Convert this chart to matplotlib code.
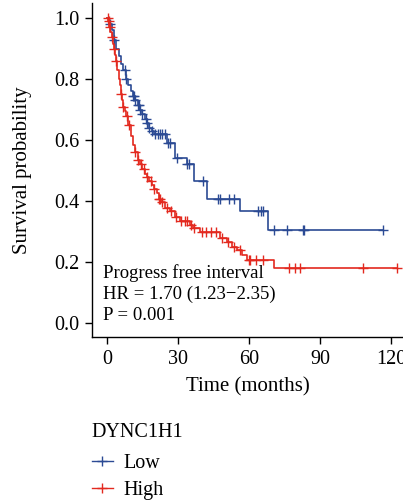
import numpy as np
import matplotlib
matplotlib.use('Agg')
import matplotlib.pyplot as plt
from matplotlib.lines import Line2D

plt.rcParams['font.family'] = ['Liberation Serif', 'DejaVu Serif']

BLUE = '#2b4a94'
RED = '#e3291f'

# Low expression group: step times (months) and survival after each step
low_t = [0, 1, 2, 3, 4, 5, 6, 7, 8, 9, 10, 11, 12, 13, 14, 15, 16, 17, 18,
         19, 20, 25.3, 28.7, 33.8, 36.8, 42.2, 56.2, 68]
low_s = [1.0, 0.98, 0.96, 0.93, 0.90, 0.875, 0.85, 0.83, 0.80, 0.78, 0.76,
         0.745, 0.73, 0.715, 0.70, 0.685, 0.67, 0.655, 0.64, 0.63, 0.62,
         0.589, 0.54, 0.523, 0.467, 0.405, 0.366, 0.304]
low_cens = [1.5, 3, 7.5, 8, 11, 11.5, 12, 13, 13.5, 14, 15, 16.5, 17, 18,
            19, 20.5, 21.5, 22.5, 23.5, 24.5, 25.8, 26.5, 29.6, 33.8, 34.5,
            40.6, 47, 47.7, 51.5, 53.5, 63.8, 65, 65.9, 70.5, 76, 82.8,
            83.3, 116.6]

# High expression group
high_t = [0, 0.5, 1, 1.5, 2, 2.5, 3, 3.5, 4, 4.5, 5, 5.5, 6, 6.5, 7, 7.5, 8,
          9, 10, 11, 12, 13, 14, 15, 16, 17, 18, 19, 20, 21, 22, 23, 24.5,
          26.6, 28.7, 30.8, 35, 36.3, 39.3, 47.7, 50.7, 52.8, 54.9, 57, 59,
          70.6]
high_s = [1.0, 0.99, 0.97, 0.955, 0.94, 0.915, 0.90, 0.88, 0.86, 0.83, 0.80,
          0.78, 0.75, 0.73, 0.71, 0.695, 0.68, 0.65, 0.615, 0.585, 0.56,
          0.535, 0.52, 0.505, 0.49, 0.478, 0.466, 0.452, 0.44, 0.425, 0.405,
          0.396, 0.378, 0.366, 0.347, 0.333, 0.322, 0.31, 0.297, 0.28, 0.265,
          0.25, 0.238, 0.222, 0.208, 0.179]
high_cens = [0.3, 0.8, 1.2, 2.2, 3, 4, 6, 7, 8.5, 9.5, 12, 13, 14.5, 15.5,
             17, 18.5, 20, 22, 22.5, 23.5, 25.5, 27, 29, 31.5, 33, 34, 35.5,
             37, 40, 42, 44, 46, 48.5, 51, 53.5, 56, 60, 60.5, 63, 66, 77,
             79.5, 81.5, 108, 122.5]

xticks = [0, 30, 60, 90, 120]
yticks = [0.0, 0.2, 0.4, 0.6, 0.8, 1.0]


def km_line(ax, t, s, cens, color):
    t_end = max(max(t), max(cens))
    tt = list(t) + [t_end]
    ss = list(s) + [s[-1]]
    ax.step(tt, ss, where='post', color=color, lw=1.2)
    idx = np.searchsorted(t, cens, side='right') - 1
    cy = np.array(s)[idx]
    ax.plot(cens, cy, ls='none', marker='+', ms=7, mew=1.0, color=color)


fig = plt.figure(figsize=(4.03, 5.04), dpi=100)
ax = fig.add_axes([0.228, 0.331, 0.772, 0.663])

km_line(ax, low_t, low_s, low_cens, BLUE)
km_line(ax, high_t, high_s, high_cens, RED)

ax.set_xlim(-6.3, 125)
ax.set_ylim(-0.047, 1.05)
ax.set_xticks(xticks)
ax.set_yticks(yticks)
ax.set_xticklabels([str(x) for x in xticks])
ax.set_yticklabels(['%.1f' % y for y in yticks])
ax.tick_params(labelsize=14.5, length=5, width=1, direction='out', pad=4)
for side in ['top', 'right']:
    ax.spines[side].set_visible(False)
for side in ['left', 'bottom']:
    ax.spines[side].set_linewidth(1.0)

ax.set_xlabel('Time (months)', fontsize=15, labelpad=6)
ax.set_ylabel('Survival probability', fontsize=15, labelpad=16)

ax.text(-1.5, 0.165, 'Progress free interval', fontsize=13.5, va='center')
ax.text(-1.5, 0.095, 'HR = 1.70 (1.23\u22122.35)', fontsize=13.5, va='center')
ax.text(-1.5, 0.024, 'P = 0.001', fontsize=13.5, va='center')

# legend title drawn separately so the gap to the entries can match
fig.text(0.228, 0.141, 'DYNC1H1', fontsize=14.5, va='center', ha='left')
handles = [Line2D([], [], color=BLUE, marker='+', ms=7, lw=1),
           Line2D([], [], color=RED, marker='+', ms=7, lw=1)]
leg = fig.legend(handles, ['Low', 'High'],
                 loc='upper left', bbox_to_anchor=(0.183, 0.135),
                 frameon=False, fontsize=14.5,
                 handlelength=1.05, handletextpad=0.5,
                 labelspacing=0.4)

fig.savefig('out.png', dpi=100)
